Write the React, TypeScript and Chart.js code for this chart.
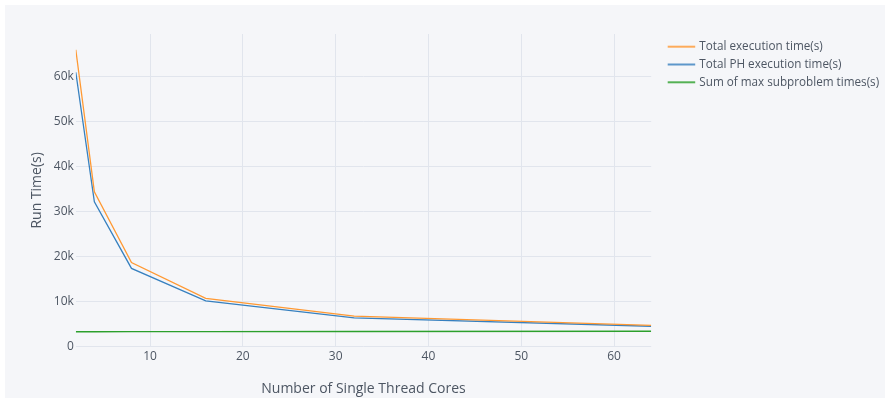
import React, { useEffect, useRef } from "react";
import { Chart, registerables } from "chart.js";

Chart.register(...registerables);

// ---- data ----
const cores = [2, 4, 8, 16, 32, 64];
const totalExecution = [66000, 34400, 18700, 10750, 6800, 4750];
const totalPHExecution = [61000, 32200, 17400, 10200, 6400, 4550];
const sumMaxSubproblem = [3320, 3320, 3330, 3350, 3380, 3430];
const seriesLabels = [
  "Total execution time(s)",
  "Total PH execution time(s)",
  "Sum of max subproblem times(s)",
];
const seriesColors = ["#ff9933", "#3780bf", "#2ca02c"];
const xTickValues = [10, 20, 30, 40, 50, 60];
const yTickValues = [0, 10000, 20000, 30000, 40000, 50000, 60000];
const xTitle = "Number of Single Thread Cores";
const yTitle = "Run Time(s)";

const FONT = "'Open Sans', 'DejaVu Sans', sans-serif";
const TEXT = "#4D5663";
const GRID = "#E1E5ED";
const BG = "#F5F6F9";

const sideLegend = {
  id: "sideLegend",
  afterDraw(chart: any) {
    const { ctx, chartArea } = chart;
    ctx.save();
    ctx.font = `11.7px ${FONT}`;
    ctx.textBaseline = "middle";
    ctx.textAlign = "left";
    chart.data.datasets.forEach((ds: any, i: number) => {
      const y = chartArea.top + 12.7 + i * 17.8;
      const x0 = chartArea.right + 16.5;
      ctx.strokeStyle = ds.borderColor;
      ctx.globalAlpha = 0.8;
      ctx.lineWidth = 2;
      ctx.beginPath();
      ctx.moveTo(x0, y);
      ctx.lineTo(x0 + 27.5, y);
      ctx.stroke();
      ctx.globalAlpha = 1;
      ctx.fillStyle = TEXT;
      ctx.fillText(ds.label, x0 + 31.6, y);
    });
    ctx.restore();
  },
};

export default function App() {
  const ref = useRef<HTMLCanvasElement | null>(null);

  useEffect(() => {
    if (!ref.current) return;
    const series = [totalExecution, totalPHExecution, sumMaxSubproblem];
    const chart = new Chart(ref.current, {
      type: "line",
      data: {
        datasets: series.map((vals, i) => ({
          label: seriesLabels[i],
          data: cores.map((c, j) => ({ x: c, y: vals[j] })),
          borderColor: seriesColors[i],
          backgroundColor: seriesColors[i],
          borderWidth: 1.3,
          pointRadius: 0,
          tension: 0,
          fill: false,
        })),
      },
      options: {
        animation: false,
        responsive: false,
        maintainAspectRatio: false,
        layout: { padding: { top: 29, right: 233.8, left: 0, bottom: 0 } },
        plugins: {
          legend: { display: false },
          tooltip: { enabled: false },
        },
        scales: {
          x: {
            type: "linear",
            min: 2,
            max: 64,
            afterBuildTicks: (s: any) => {
              s.ticks = xTickValues.map((v) => ({ value: v }));
            },
            afterFit: (s: any) => {
              s.height = 51.3;
            },
            grid: { color: GRID, lineWidth: 1, drawTicks: false },
            border: { display: false },
            ticks: {
              color: TEXT,
              font: { family: FONT, size: 12 },
              padding: 3,
              maxRotation: 0,
            },
            title: {
              display: true,
              text: xTitle,
              color: TEXT,
              font: { family: FONT, size: 14 },
              padding: { top: 0, bottom: 0.6 },
            },
          },
          y: {
            type: "linear",
            min: 0,
            max: 69500,
            afterBuildTicks: (s: any) => {
              s.ticks = yTickValues.map((v) => ({ value: v }));
            },
            afterFit: (s: any) => {
              s.width = 70.8;
            },
            grid: { color: GRID, lineWidth: 1, drawTicks: false },
            border: { display: false },
            ticks: {
              color: TEXT,
              font: { family: FONT, size: 12 },
              padding: 2,
              callback: (v: any) => (v === 0 ? "0" : `${Number(v) / 1000}k`),
            },
            title: {
              display: true,
              text: yTitle,
              color: TEXT,
              font: { family: FONT, size: 14 },
              padding: { top: 24, bottom: 0 },
            },
          },
        },
      },
      plugins: [sideLegend],
    });
    return () => chart.destroy();
  }, []);

  return (
    <div
      style={{
        position: "fixed",
        left: 0,
        top: 0,
        width: 886,
        height: 398,
        background: "#ffffff",
        overflow: "hidden",
      }}
    >
      <div
        style={{
          position: "absolute",
          left: 5,
          top: 5,
          width: 880,
          height: 393,
          background: BG,
        }}
      >
        <canvas ref={ref} width={880} height={393} style={{ display: "block" }} />
      </div>
    </div>
  );
}
